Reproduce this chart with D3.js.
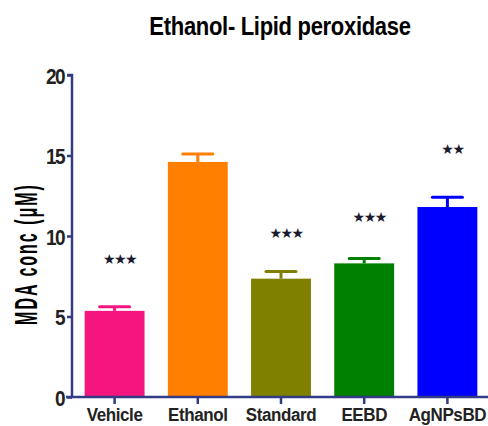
<!DOCTYPE html>
<html>
<head>
<meta charset="utf-8">
<script src="https://cdn.jsdelivr.net/npm/d3@7"></script>
<style>
  body { margin: 0; background: #fff; }
  text { font-family: "Liberation Sans", Arial, sans-serif; font-weight: bold; }
</style>
</head>
<body>
<div id="chart"></div>
<script>
var groups = ["Vehicle", "Ethanol", "Standard", "EEBD", "AgNPsBD"];
var means = [5.35, 14.6, 7.35, 8.3, 11.8];
var sems = [0.25, 0.5, 0.45, 0.3, 0.6];
var stars = ["***", "", "***", "***", "**"];
var starLevel = [8.6, 0, 10.2, 11.2, 15.4];
var colors = ["#f5157f", "#ff8000", "#808000", "#008000", "#0000ff"];
var yTicks = [0, 5, 10, 15, 20];

var svgWidth = 488;
var svgHeight = 426;
var axisColor = "#333a86";

var svg = d3.select("#chart").append("svg")
  .attr("width", svgWidth)
  .attr("height", svgHeight);

var xScale = d3.scaleBand()
  .domain(groups)
  .range([73, 489])
  .paddingInner(0.28)
  .paddingOuter(0.14);

var yScale = d3.scaleLinear()
  .domain([0, 20])
  .range([397, 75]);

// bars
svg.append("g").selectAll("rect")
  .data(groups)
  .enter()
  .append("rect")
  .attr("x", function (d) { return xScale(d); })
  .attr("width", xScale.bandwidth())
  .attr("y", function (d, i) { return yScale(means[i]); })
  .attr("height", function (d, i) { return yScale(0) - yScale(means[i]); })
  .attr("fill", function (d, i) { return colors[i]; });

// error bars (upper only)
var err = svg.append("g");
groups.forEach(function (d, i) {
  var cx = xScale(d) + xScale.bandwidth() / 2;
  err.append("line")
    .attr("x1", cx).attr("x2", cx)
    .attr("y1", yScale(means[i])).attr("y2", yScale(means[i] + sems[i]))
    .attr("stroke", colors[i]).attr("stroke-width", 3);
  err.append("line")
    .attr("x1", cx - 15).attr("x2", cx + 15)
    .attr("y1", yScale(means[i] + sems[i])).attr("y2", yScale(means[i] + sems[i]))
    .attr("stroke", colors[i]).attr("stroke-width", 3).attr("stroke-linecap", "round");
});

// significance stars
svg.append("g").selectAll("text")
  .data(groups)
  .enter()
  .append("text")
  .attr("x", function (d) { return xScale(d) + xScale.bandwidth() / 2 + 5; })
  .attr("y", function (d, i) { return yScale(starLevel[i]) + 5; })
  .attr("text-anchor", "middle")
  .style("font-family", "DejaVu Sans")
  .style("font-size", "14px")
  .style("letter-spacing", "-1.5px")
  .attr("fill", "#1c1c30")
  .text(function (d, i) { return stars[i].replace(/\*/g, "\u2605"); });

// axes
var yAxis = d3.axisLeft(yScale).tickValues(yTicks).tickSize(5).tickPadding(3);
var xAxis = d3.axisBottom(xScale).tickSize(7).tickPadding(5);

var gy = svg.append("g")
  .attr("transform", "translate(72,0)")
  .call(yAxis);
gy.select(".domain").attr("stroke", axisColor).attr("stroke-width", 2.5)
  .attr("d", "M-5,75H0V397");
gy.selectAll(".tick line").attr("stroke", axisColor).attr("stroke-width", 2.5);
gy.selectAll(".tick text")
  .style("font-size", "19px")
  .style("letter-spacing", "-1.5px")
  .attr("fill", "#222")
  .attr("dy", "0.36em")
  .attr("transform", "scale(1,1.2)");

var gx = svg.append("g")
  .attr("transform", "translate(0,397)")
  .call(xAxis);
gx.select(".domain").attr("stroke", axisColor).attr("stroke-width", 2.5)
  .attr("d", "M66,0H488");
gx.selectAll(".tick line").attr("stroke", axisColor).attr("stroke-width", 2.5);
gx.selectAll(".tick text")
  .style("font-size", "17px")
  .style("letter-spacing", "-0.4px")
  .attr("fill", "#222")
  .attr("y", 11)
  .attr("dy", "0.71em")
  .attr("transform", "scale(1,1.05)");

// title
svg.append("text")
  .attr("transform", "translate(280,35) scale(1,1.18)")
  .attr("text-anchor", "middle")
  .style("font-size", "22px")
  .style("letter-spacing", "-0.3px")
  .attr("fill", "#000")
  .text("Ethanol- Lipid peroxidase");

// y label
svg.append("text")
  .attr("transform", "translate(37,254) rotate(-90) scale(1,2)")
  .attr("text-anchor", "middle")
  .style("font-size", "16px")
  .style("letter-spacing", "2px")
  .attr("fill", "#000")
  .text("MDA conc (\u03bcM)");
</script>
</body>
</html>
